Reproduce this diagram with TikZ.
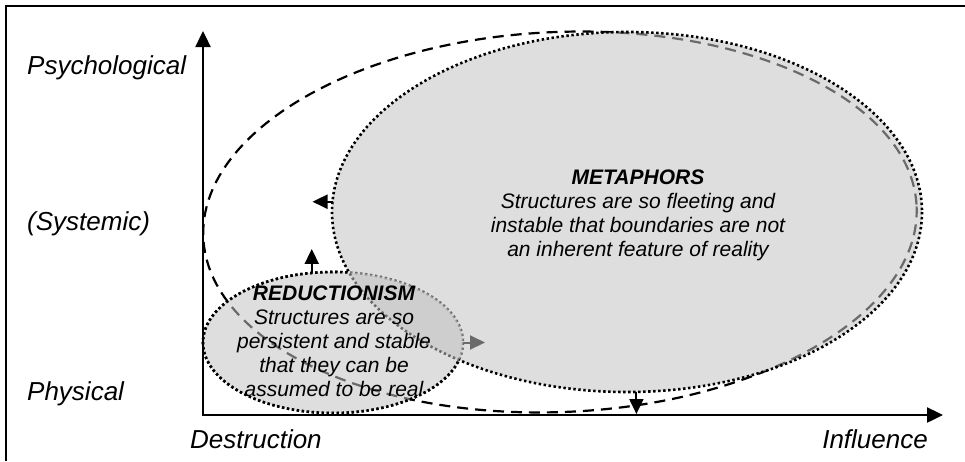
\documentclass[tikz,border=0pt]{standalone}
\usepackage{fontspec}
\setmainfont{Liberation Sans}
\usetikzlibrary{arrows.meta,shapes.geometric,calc}

\begin{document}
\begin{tikzpicture}[x=1pt,y=-1pt,
  frameline/.style={line width=1.4pt},
  axisline/.style={line width=2.4pt,line join=miter,
    {Triangle[length=16pt,width=15pt]}-{Triangle[length=16pt,width=15pt]}},
  move/.style={line width=2pt,-{Triangle[length=15pt,width=14pt]}},
  scopeline/.style={line width=2.2pt,dash pattern=on 11pt off 7pt},
  dotline/.style={line width=2.6pt,dash pattern=on 2.4pt off 2.6pt},
  zonefill/.style={fill=black!24,fill opacity=0.55},
  zone/.style={ellipse,inner sep=0pt,outer sep=0pt},
  axlabel/.style={font=\fontsize{26}{30}\selectfont\itshape,inner sep=0pt},
  body/.style={font=\fontsize{21}{24}\selectfont\itshape,align=center,inner sep=0pt}
]
\useasboundingbox (0,0) rectangle (965,461);

% key points
\coordinate (O) at (203,415);
\coordinate (ytop) at (203,31);
\coordinate (xend) at (943,415);
\coordinate (mc) at (627,212);
\coordinate (rc) at (333,342.5);
\coordinate (sc) at (560,222);

% the two regions, named for their anchors (painted below in layers)
\node[zone,minimum width=590pt,minimum height=360pt] (meta) at (mc) {};
\node[zone,minimum width=260pt,minimum height=141pt] (redu) at (rc) {};

% outer frame
\draw[frameline] (6,461) -- (6,6) -- (965,6);

% overall scope (dashed)
\draw[scopeline,rotate around={2.5:(sc)}] (sc) ellipse [x radius=357,y radius=190];

% reductionism shifting right (seen through the metaphors region)
\coordinate (rtip) at ($(redu.east)+(22,0)$);
\draw[move] (redu.east) -- (rtip);

% reductionism outline, later shaded over by the metaphors region
\draw[dotline] (rc) ellipse [x radius=130,y radius=70.5];

% metaphors region
\fill[zonefill] (mc) ellipse [x radius=295,y radius=180];
\draw[dotline] (mc) ellipse [x radius=295,y radius=180];

% reductionism region
\fill[zonefill] (rc) ellipse [x radius=130,y radius=70.5];
\begin{scope}
  \clip (0,0) -- (0,461) -- (965,461) -- (965,0) -- cycle
        (mc) ellipse [x radius=295,y radius=180];
  \draw[dotline] (rc) ellipse [x radius=130,y radius=70.5];
\end{scope}

% axes
\draw[axisline] (ytop) -- (O) -- (xend);

% shifts of the regions
\coordinate (ltip) at ($(meta.178)+(-20,0)$);
\draw[move] (meta.178) -- (ltip);
\coordinate (utip) at ($(redu.107)+(0,-24)$);
\draw[move] (redu.107) -- (utip);
\coordinate (dtip) at ($(meta.273.5 |- O)+(0,-1)$);
\draw[move] (meta.273.5) -- (dtip);

% axis labels
\node[axlabel,anchor=base west] (lpsy) at (27,74) {Psychological};
\node[axlabel,anchor=base west] (lsys) at (27,230) {(Systemic)};
\node[axlabel,anchor=base west] (lphy) at (27,400) {Physical};
\node[axlabel,anchor=base west] (ldes) at (190,448) {Destruction};
\node[axlabel,anchor=base east] (linf) at (928,448) {Influence};

% region texts
\node[body] (metatext) at (638,215.5) {\textbf{METAPHORS}\\Structures are so fleeting and\\instable that boundaries are not\\an inherent feature of reality};
\node[body] (redutext) at (334,341.5) {\textbf{REDUCTIONISM}\\Structures are so\\persistent and stable\\that they can be\\assumed to be real};
\end{tikzpicture}
\end{document}
